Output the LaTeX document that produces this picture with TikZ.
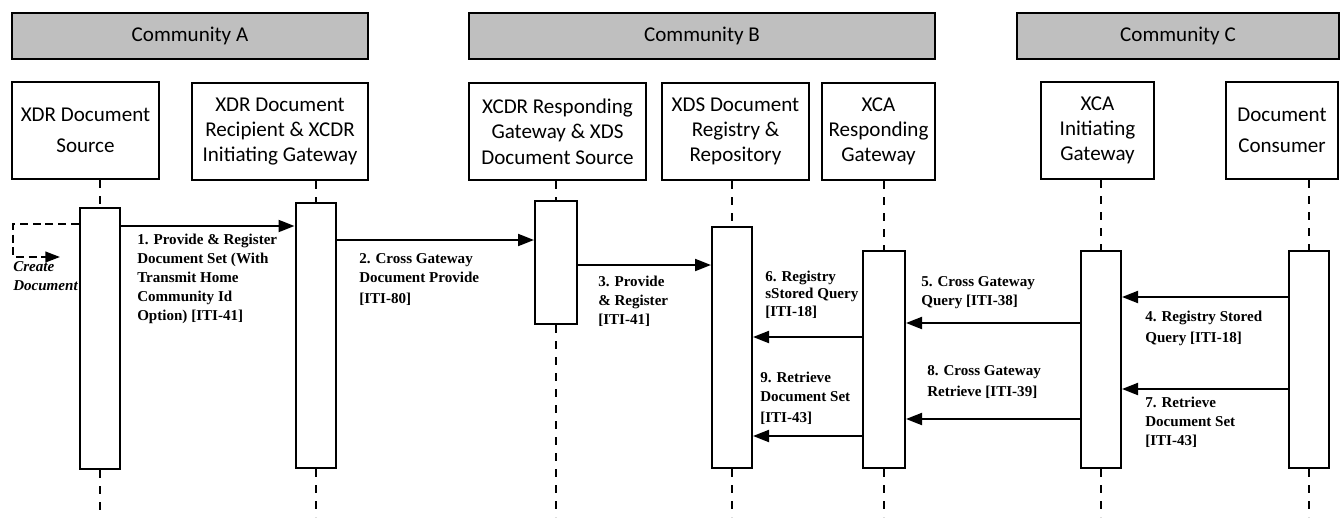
\documentclass[tikz,border=0pt]{standalone}
\usepackage{fontspec}
\setmainfont{Carlito}
\newfontfamily\timesfont{Liberation Serif}
\usetikzlibrary{arrows.meta}
\definecolor{headgray}{RGB}{191,191,191}
\tikzset{
	head/.style={draw,line width=1.5pt,fill=headgray,anchor=north west,inner sep=0pt,minimum height=34.5pt,font=\fontsize{15.8}{19}\selectfont},
	actor/.style={draw,line width=1.5pt,anchor=north west,inner sep=0pt,minimum height=72.75pt,align=center,font=\fontsize{15.8}{19}\selectfont},
	bar/.style={draw,line width=1.5pt,fill=white,anchor=north,inner sep=0pt,minimum width=30pt},
	life/.style={line width=1.5pt,dash pattern=on 6pt off 6pt},
	msg/.style={line width=1.5pt,-{Triangle[length=12pt,width=9pt]}},
	lbl/.style={anchor=north west,inner sep=0pt,align=left,font=\timesfont\bfseries\fontsize{11.3}{14.25}\selectfont},
}
\begin{document}
\begin{tikzpicture}[x=0.75pt,y=-0.75pt]
	\useasboundingbox (0,0) rectangle (1344,517);
	% communities
	\node[head,minimum width=267pt] (comA) at (11,12) {Community A};
	\node[head,minimum width=349.5pt] (comB) at (468,12) {Community B};
	\node[head,minimum width=241.5pt] (comC) at (1016,12) {Community C};
	% actors
	\node[actor,minimum width=110.25pt] (src) at (11,81) {XDR Document\\[4pt]Source};
	\node[actor,minimum width=132pt] (rec) at (191,82) {XDR Document\\Recipient \& XCDR\\Initiating Gateway};
	\node[actor,minimum width=132.75pt] (xcdr) at (468,82) {XCDR Responding\\Gateway \& XDS\\Document Source};
	\node[actor,minimum width=110.25pt] (xds) at (661,82) {XDS Document\\Registry \&\\Repository};
	\node[actor,minimum width=84.75pt] (xcar) at (821,82) {XCA\\Responding\\Gateway};
	\node[actor,minimum width=84.75pt] (xcai) at (1040,81) {XCA\\Initiating\\Gateway};
	\node[actor,minimum width=84pt] (cons) at (1225,81) {Document\\[4pt]Consumer};
	% activation bars
	\node[bar,minimum height=195.75pt] (barS) at (99.5,207) {};
	\node[bar,minimum height=198.75pt] (barR) at (315.5,202) {};
	\node[bar,minimum height=92.25pt,minimum width=31.5pt] (barX) at (556,200) {};
	\node[bar,minimum height=180.75pt] (barD) at (732,226) {};
	\node[bar,minimum height=162.75pt,minimum width=31.5pt] (barG) at (884,250) {};
	\node[bar,minimum height=162.75pt] (barI) at (1101,250) {};
	\node[bar,minimum height=162.75pt] (barC) at (1309,250) {};
	% lifelines
	\foreach \a/\b in {src/barS,rec/barR,xcdr/barX,xds/barD,xcar/barG,xcai/barI,cons/barC} {
		\draw[life] (\a.south -| \b.north) -- (\b.north);
		\draw[life] (\b.south) -- (\b.south |- 0,517);
	}
	% create document
	\coordinate (selfend) at (60,257);
	\draw[line width=1.5pt,dash pattern=on 6pt off 3.5pt,-{Triangle[length=11pt,width=8pt]}]
		(barS.west |- 0,224) -- (13,224) -- (13,257) -- (selfend);
	\node[lbl,font=\timesfont\bfseries\itshape\fontsize{11.3}{14.25}\selectfont] (lcd) at (13,261.5) {Create\\Document};
	% messages
	\draw[msg] (barS.east |- 0,226) -- (barR.west |- 0,226);
	\draw[msg] (barR.east |- 0,240) -- (barX.west |- 0,240);
	\draw[msg] (barX.east |- 0,265) -- (barD.west |- 0,265);
	\draw[msg] (barC.west |- 0,297) -- (barI.east |- 0,297);
	\draw[msg] (barI.west |- 0,323) -- (barG.east |- 0,323);
	\draw[msg] (barG.west |- 0,337) -- (barD.east |- 0,337);
	\draw[msg] (barC.west |- 0,389) -- (barI.east |- 0,389);
	\draw[msg] (barI.west |- 0,419) -- (barG.east |- 0,419);
	\draw[msg] (barG.west |- 0,436) -- (barD.east |- 0,436);
	% message labels
	\node[lbl] (l1) at (137,233.5) {1. Provide \& Register\\Document Set (With\\Transmit Home\\Community Id\\Option) [ITI-41]};
	\node[lbl] (l2) at (359,253.5) {2. Cross Gateway\\Document Provide\\[1pt]{[ITI-80]}};
	\node[lbl] (l3) at (598,275.5) {3. Provide\\\& Register\\{[ITI-41]}};
	\node[lbl] (l4) at (1145,310.5) {4. Registry Stored\\[1.5pt]Query [ITI-18]};
	\node[lbl] (l5) at (921,276.5) {5. Cross Gateway\\Query [ITI-38]};
	\node[lbl] (l6) at (765,270.5) {6. Registry\\[-1pt]sStored Query\\[-1pt]{[ITI-18]}};
	\node[lbl] (l7) at (1145,396.5) {7. Retrieve\\Document Set\\{[ITI-43]}};
	\node[lbl] (l8) at (927,365.5) {8. Cross Gateway\\[1.5pt]Retrieve [ITI-39]};
	\node[lbl] (l9) at (760,371.5) {9. Retrieve\\Document Set\\[1.5pt]{[ITI-43]}};
\end{tikzpicture}
\end{document}
